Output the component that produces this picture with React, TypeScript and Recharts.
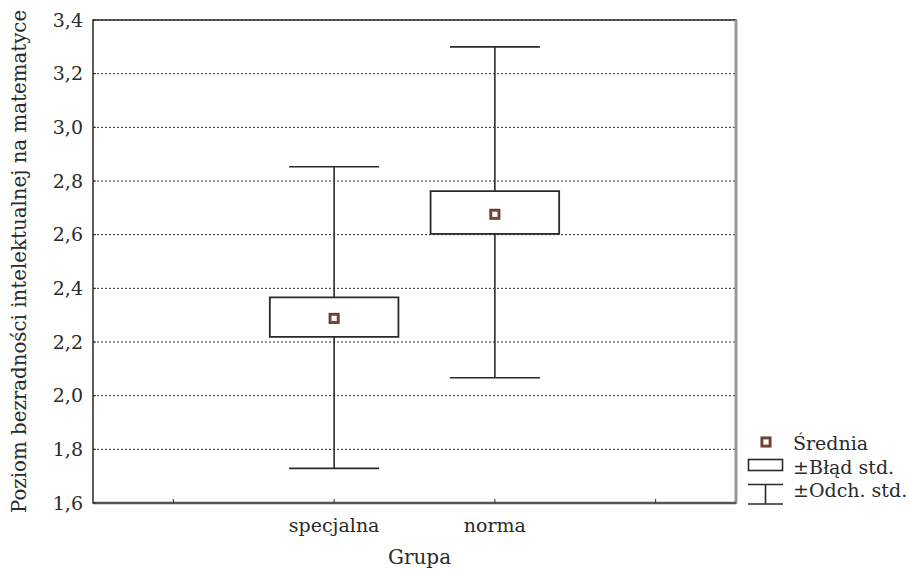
import React from 'react';
import {
  ComposedChart,
  XAxis,
  YAxis,
  CartesianGrid,
  Scatter,
  ReferenceLine,
  ReferenceArea,
} from 'recharts';

// ---- data ----
const groups = ['specjalna', 'norma'];
const groupPos = [1, 2];
const means = [2.288, 2.676];
const seLow = [2.219, 2.603];
const seHigh = [2.366, 2.762];
const sdLow = [1.729, 2.067];
const sdHigh = [2.853, 3.3];

const xTicks = [0, 1, 2, 3];
const yTicks = [1.6, 1.8, 2.0, 2.2, 2.4, 2.6, 2.8, 3.0, 3.2, 3.4];

const xTitle = 'Grupa';
const yTitle = 'Poziom bezradności intelektualnej na matematyce';
const legendLabels = ['Średnia', '±Błąd std.', '±Odch. std.'];

const FONT = 'DejaVu Serif';
const FS = 19;
const INK = '#2a2a2a';
const MARK = '#7f4433';

const BOX_HALF = 0.4;
const CAP_HALF = 0.28;

const meanData = groups.map((g, i) => ({ x: groupPos[i], y: means[i], name: g }));

const MeanMarker = (props: any) => {
  const { cx, cy } = props;
  if (cx == null || cy == null) return null;
  return (
    <g>
      <rect x={cx - 5.5} y={cy - 5.5} width={11} height={11} fill="#3b3b3b" />
      <rect x={cx - 4.7} y={cy - 4.7} width={9.4} height={9.4} fill={MARK} />
      <rect x={cx - 2.6} y={cy - 2.6} width={5.2} height={5.2} fill="#ffffff" />
    </g>
  );
};

const fmtY = (v: number) => v.toFixed(1).replace('.', ',');
const fmtX = (v: number) => {
  const i = groupPos.indexOf(v);
  return i >= 0 ? groups[i] : '';
};

const Legend = () => (
  <svg
    width={169}
    height={90}
    style={{ position: 'absolute', left: 740, top: 430 }}
  >
    <rect x={20.5} y={6.5} width={11} height={11} fill="#3b3b3b" />
    <rect x={21.3} y={7.3} width={9.4} height={9.4} fill={MARK} />
    <rect x={23.4} y={9.4} width={5.2} height={5.2} fill="#fff" />
    <rect x={8.5} y={29.5} width={34} height={11} fill="none" stroke={INK} strokeWidth={1.6} />
    <line x1={8} x2={43} y1={54.5} y2={54.5} stroke={INK} strokeWidth={1.6} />
    <line x1={8} x2={43} y1={74} y2={74} stroke={INK} strokeWidth={1.6} />
    <line x1={25.5} x2={25.5} y1={54.5} y2={74} stroke={INK} strokeWidth={1.6} />
    {legendLabels.map((t, i) => (
      <text
        key={t}
        x={53}
        y={20 + i * 23.5}
        style={{ fontFamily: FONT, fontSize: FS }}
        fill={INK}
      >
        {t}
      </text>
    ))}
  </svg>
);

export default function App() {
  return (
    <div style={{ position: 'absolute', left: 0, top: 0, width: 909, height: 571, background: '#fff', fontFamily: FONT }}>
      <ComposedChart
        width={909}
        height={571}
        margin={{ top: 20, right: 173, bottom: 0, left: 0 }}
      >
        <CartesianGrid
          vertical={false}
          horizontalValues={yTicks}
          stroke={INK}
          strokeDasharray="2 2"
          strokeWidth={1}
        />
        <XAxis
          type="number"
          dataKey="x"
          domain={[-0.5, 3.5]}
          ticks={xTicks}
          interval={0}
          tickFormatter={fmtX}
          height={68}
          axisLine={false}
          tickSize={-4}
          tickMargin={19.5}
          tickLine={{ stroke: INK }}
          tick={{ fontSize: FS, fill: INK, style: { fontFamily: FONT } }}
          allowDataOverflow
          label={{
            value: xTitle,
            position: 'insideBottom',
            offset: 7,
            dx: 5,
            style: { fontSize: 20, fill: INK, fontFamily: FONT },
          }}
        />
        <XAxis
          xAxisId="top"
          orientation="top"
          type="number"
          domain={[-0.5, 3.5]}
          ticks={xTicks}
          interval={0}
          height={0}
          axisLine={false}
          tick={false}
          tickSize={-4}
          tickLine={{ stroke: INK }}
          allowDataOverflow
        />
        <YAxis
          type="number"
          dataKey="y"
          domain={[1.6, 3.4]}
          ticks={yTicks}
          interval={0}
          tickFormatter={fmtY}
          width={93}
          axisLine={false}
          tickSize={-3}
          tickMargin={13}
          tickLine={{ stroke: INK }}
          tick={{ fontSize: FS, fill: INK, style: { fontFamily: FONT } }}
          allowDataOverflow
          label={{
            value: yTitle,
            angle: -90,
            position: 'insideLeft',
            offset: 19,
            style: { fontSize: 19.8, fill: INK, fontFamily: FONT, textAnchor: 'middle' },
          }}
        />
        <YAxis
          yAxisId="right"
          orientation="right"
          type="number"
          domain={[1.6, 3.4]}
          ticks={yTicks}
          interval={0}
          width={0}
          axisLine={false}
          tick={false}
          tickSize={-3}
          tickLine={{ stroke: INK }}
          allowDataOverflow
        />

        {/* frame */}
        <ReferenceArea
          x1={-0.5}
          x2={3.5}
          y1={1.6}
          y2={3.4}
          fill="none"
          stroke={INK}
          strokeWidth={1.5}
          ifOverflow="visible"
        />
        <ReferenceLine x={3.5} stroke="#999" strokeWidth={3} ifOverflow="visible" />
        <ReferenceLine y={1.6} stroke="#555" strokeWidth={2.5} ifOverflow="visible" />

        {/* whiskers */}
        {groups.map((g, i) => (
          <ReferenceLine
            key={'wl' + g}
            segment={[
              { x: groupPos[i], y: sdLow[i] },
              { x: groupPos[i], y: seLow[i] },
            ]}
            stroke={INK}
            strokeWidth={1.6}
            ifOverflow="visible"
          />
        ))}
        {groups.map((g, i) => (
          <ReferenceLine
            key={'wh' + g}
            segment={[
              { x: groupPos[i], y: seHigh[i] },
              { x: groupPos[i], y: sdHigh[i] },
            ]}
            stroke={INK}
            strokeWidth={1.6}
            ifOverflow="visible"
          />
        ))}
        {groups.map((g, i) => (
          <ReferenceLine
            key={'cl' + g}
            segment={[
              { x: groupPos[i] - CAP_HALF, y: sdLow[i] },
              { x: groupPos[i] + CAP_HALF, y: sdLow[i] },
            ]}
            stroke={INK}
            strokeWidth={1.6}
            ifOverflow="visible"
          />
        ))}
        {groups.map((g, i) => (
          <ReferenceLine
            key={'ch' + g}
            segment={[
              { x: groupPos[i] - CAP_HALF, y: sdHigh[i] },
              { x: groupPos[i] + CAP_HALF, y: sdHigh[i] },
            ]}
            stroke={INK}
            strokeWidth={1.6}
            ifOverflow="visible"
          />
        ))}

        {/* standard error boxes */}
        {groups.map((g, i) => (
          <ReferenceArea
            key={'box' + g}
            x1={groupPos[i] - BOX_HALF}
            x2={groupPos[i] + BOX_HALF}
            y1={seLow[i]}
            y2={seHigh[i]}
            fill="none"
            stroke={INK}
            strokeWidth={1.8}
            ifOverflow="visible"
          />
        ))}

        <Scatter data={meanData} shape={MeanMarker} isAnimationActive={false} />
      </ComposedChart>
      <Legend />
    </div>
  );
}
